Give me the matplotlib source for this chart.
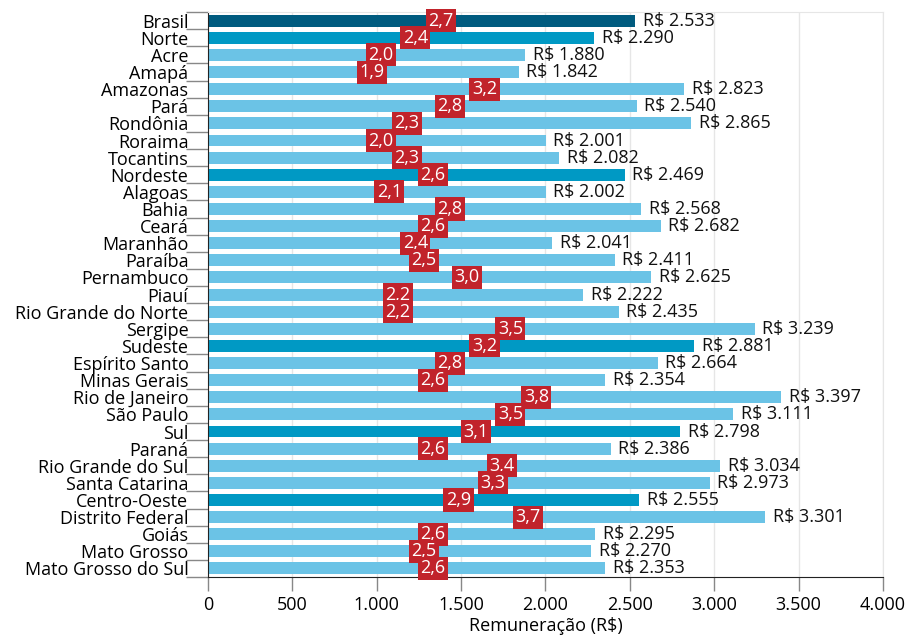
import matplotlib.pyplot as plt
from matplotlib.ticker import FuncFormatter
import numpy as np

plt.rcParams['font.family'] = ['Open Sans', 'DejaVu Sans']

# data
names = ["Brasil", "Norte", "Acre", "Amapá", "Amazonas", "Pará", "Rondônia", "Roraima",
         "Tocantins", "Nordeste", "Alagoas", "Bahia", "Ceará", "Maranhão", "Paraíba",
         "Pernambuco", "Piauí", "Rio Grande do Norte", "Sergipe", "Sudeste",
         "Espírito Santo", "Minas Gerais", "Rio de Janeiro", "São Paulo", "Sul", "Paraná",
         "Rio Grande do Sul", "Santa Catarina", "Centro-Oeste", "Distrito Federal",
         "Goiás", "Mato Grosso", "Mato Grosso do Sul"]
salary = [2533, 2290, 1880, 1842, 2823, 2540, 2865, 2001, 2082, 2469, 2002, 2568, 2682,
          2041, 2411, 2625, 2222, 2435, 3239, 2881, 2664, 2354, 3397, 3111, 2798, 2386,
          3034, 2973, 2555, 3301, 2295, 2270, 2353]
ratio = [2.7, 2.4, 2.0, 1.9, 3.2, 2.8, 2.3, 2.0, 2.3, 2.6, 2.1, 2.8, 2.6, 2.4, 2.5, 3.0,
         2.2, 2.2, 3.5, 3.2, 2.8, 2.6, 3.8, 3.5, 3.1, 2.6, 3.4, 3.3, 2.9, 3.7, 2.6, 2.5, 2.6]
level = ["pais", "regiao"] + ["uf"] * 7 + ["regiao"] + ["uf"] * 9 + ["regiao"] + ["uf"] * 4 \
        + ["regiao"] + ["uf"] * 3 + ["regiao"] + ["uf"] * 4

colors = {"pais": "#005b7f", "regiao": "#0099c4", "uf": "#6bc3e6"}
box_scale = 512  # red box position per unit of ratio
fs = 13

fig = plt.figure(figsize=(9.08, 6.38), dpi=100)
ax = fig.add_axes([0.229, 0.0956, 0.7435, 0.8854])

y = np.arange(len(names))
ax.barh(y, salary, height=0.7, color=[colors[l] for l in level], zorder=2)

for i in range(len(names)):
    ax.text(salary[i] + 45, y[i], "R$ {:,}".format(salary[i]).replace(",", "."),
            va="center", ha="left", fontsize=fs, color="#111111", zorder=4)
    ax.text(ratio[i] * box_scale, y[i], "{:.1f}".format(ratio[i]).replace(".", ","),
            va="center", ha="center", fontsize=fs, color="white", zorder=5,
            bbox=dict(boxstyle="square,pad=0.14", fc="#c1232b", ec="none"))

ax.set_xlim(0, 4000)
ax.set_ylim(len(names) - 0.5, -0.5)
ax.set_xticks(np.arange(0, 4001, 500))
ax.xaxis.set_major_formatter(FuncFormatter(lambda v, p: "{:,}".format(int(v)).replace(",", ".")))
ax.set_yticks(y)
ax.set_yticklabels(names)
ax.set_yticks(np.arange(-0.5, len(names), 1), minor=True)
ax.tick_params(axis="y", which="major", length=0, pad=14, labelsize=fs)
ax.tick_params(axis="y", which="minor", length=16, color="#888888", width=1)
ax.tick_params(axis="x", length=10, color="#888888", width=1, labelsize=fs)
ax.grid(axis="x", color="#e6e6e6", lw=1, zorder=0)
ax.set_xlabel("Remuneração (R$)", fontsize=fs, labelpad=2)

ax.spines["left"].set_color("#222222")
ax.spines["bottom"].set_color("#222222")
ax.spines["top"].set_color("#e6e6e6")
ax.spines["right"].set_color("#e6e6e6")

plt.savefig("out.png", dpi=100)
